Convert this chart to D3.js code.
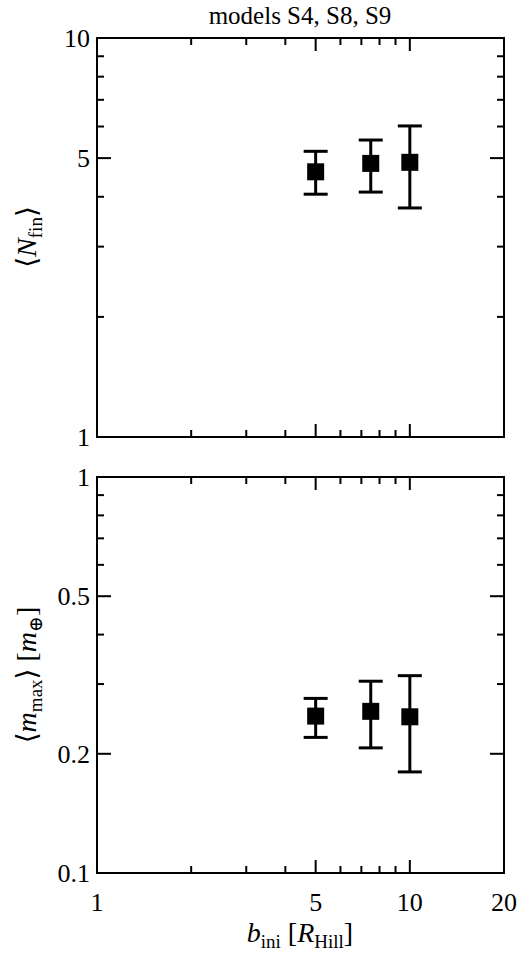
<!DOCTYPE html><html><head><meta charset="utf-8">
<script src="https://cdn.jsdelivr.net/npm/d3@7"></script>
<style>body{margin:0;background:#fff}text{font-family:"Liberation Serif","DejaVu Serif",serif;fill:#000}</style></head>
<body><svg id="c" width="520" height="955"></svg><script>
const bIni=[5,7.5,10];
const nFin=[4.62,4.85,4.88], nLo=[4.06,4.11,3.75], nHi=[5.20,5.55,6.02];
const mMax=[0.249,0.256,0.248], mLo=[0.220,0.207,0.180], mHi=[0.276,0.305,0.315];
const xTicks=[1,5,10,20], topTicks=[1,5,10], botTicks=[0.1,0.2,0.5,1];
const svg=d3.select("#c");
const L=97,R=504;
const x=d3.scaleLog().domain([1,20]).range([L,R]);
function panel(y0,y1,dom,ticks,vals,lo,hi,showX){
  const y=d3.scaleLog().domain(dom).range([y1,y0]);
  const g=svg.append("g");
  g.append("rect").attr("x",L).attr("y",y0).attr("width",R-L).attr("height",y1-y0).attr("fill","none").attr("stroke","#000").attr("stroke-width",2);
  [2,3,4,5,6,7,8,9,10].forEach(v=>{const maj=v==5||v==10;const l=maj?13:7;
    g.append("line").attr("x1",x(v)).attr("x2",x(v)).attr("y1",y1).attr("y2",y1-l).attr("stroke","#000").attr("stroke-width",2);
    g.append("line").attr("x1",x(v)).attr("x2",x(v)).attr("y1",y0).attr("y2",y0+l).attr("stroke","#000").attr("stroke-width",2);});
  const yt=[];const [a,b]=dom;for(let e=Math.log10(a);e<Math.log10(b);e++)for(let k=1;k<10;k++){const v=k*Math.pow(10,e);if(v>a&&v<b)yt.push(v);}
  yt.forEach(v=>{const maj=ticks.some(t=>Math.abs(t-v)<1e-9);const l=maj?14:7;
    g.append("line").attr("x1",L).attr("x2",L+l).attr("y1",y(v)).attr("y2",y(v)).attr("stroke","#000").attr("stroke-width",2);
    g.append("line").attr("x1",R).attr("x2",R-l).attr("y1",y(v)).attr("y2",y(v)).attr("stroke","#000").attr("stroke-width",2);});
  ticks.forEach(v=>g.append("text").attr("x",L-7).attr("y",y(v)+9).attr("text-anchor","end").attr("font-size",26).text(v));
  bIni.forEach((b,i)=>{
    g.append("line").attr("x1",x(b)).attr("x2",x(b)).attr("y1",y(lo[i])).attr("y2",y(hi[i])).attr("stroke","#000").attr("stroke-width",3);
    [lo[i],hi[i]].forEach(v=>g.append("line").attr("x1",x(b)-12).attr("x2",x(b)+12).attr("y1",y(v)).attr("y2",y(v)).attr("stroke","#000").attr("stroke-width",3));
    g.append("rect").attr("x",x(b)-8.5).attr("y",y(vals[i])-8.5).attr("width",17).attr("height",17).attr("fill","#000");});
  if(showX) xTicks.forEach(v=>g.append("text").attr("x",x(v)).attr("y",y1+38).attr("text-anchor","middle").attr("font-size",26).text(v));
}
panel(38,437,[1,10],topTicks,nFin,nLo,nHi,false);
panel(477,873,[0.1,1],botTicks,mMax,mLo,mHi,true);
svg.append("text").attr("x",300).attr("y",24).attr("text-anchor","middle").attr("font-size",25).text("models S4,  S8,  S9");
const t1=svg.append("text").attr("transform","translate(36,237) rotate(-90)").attr("text-anchor","middle").attr("font-size",28);
t1.append("tspan").text("⟨");t1.append("tspan").attr("font-style","italic").text("N");t1.append("tspan").attr("font-size",19).attr("dy",6).text("fin");t1.append("tspan").attr("dy",-6).text("⟩");
const t2=svg.append("text").attr("transform","translate(36,675) rotate(-90)").attr("text-anchor","middle").attr("font-size",28);
t2.append("tspan").text("⟨");t2.append("tspan").attr("font-style","italic").text("m");t2.append("tspan").attr("font-size",19).attr("dy",6).text("max");t2.append("tspan").attr("dy",-6).text("⟩ [");t2.append("tspan").attr("font-style","italic").text("m");t2.append("tspan").attr("font-size",19).attr("dy",6).text("⊕");t2.append("tspan").attr("dy",-6).text("]");
const t3=svg.append("text").attr("x",300).attr("y",942).attr("text-anchor","middle").attr("font-size",28);
t3.append("tspan").attr("font-style","italic").text("b");t3.append("tspan").attr("font-size",19).attr("dy",6).text("ini");t3.append("tspan").attr("dy",-6).text(" [");t3.append("tspan").attr("font-style","italic").text("R");t3.append("tspan").attr("font-size",19).attr("dy",6).text("Hill");t3.append("tspan").attr("dy",-6).text("]");
</script></body></html>
